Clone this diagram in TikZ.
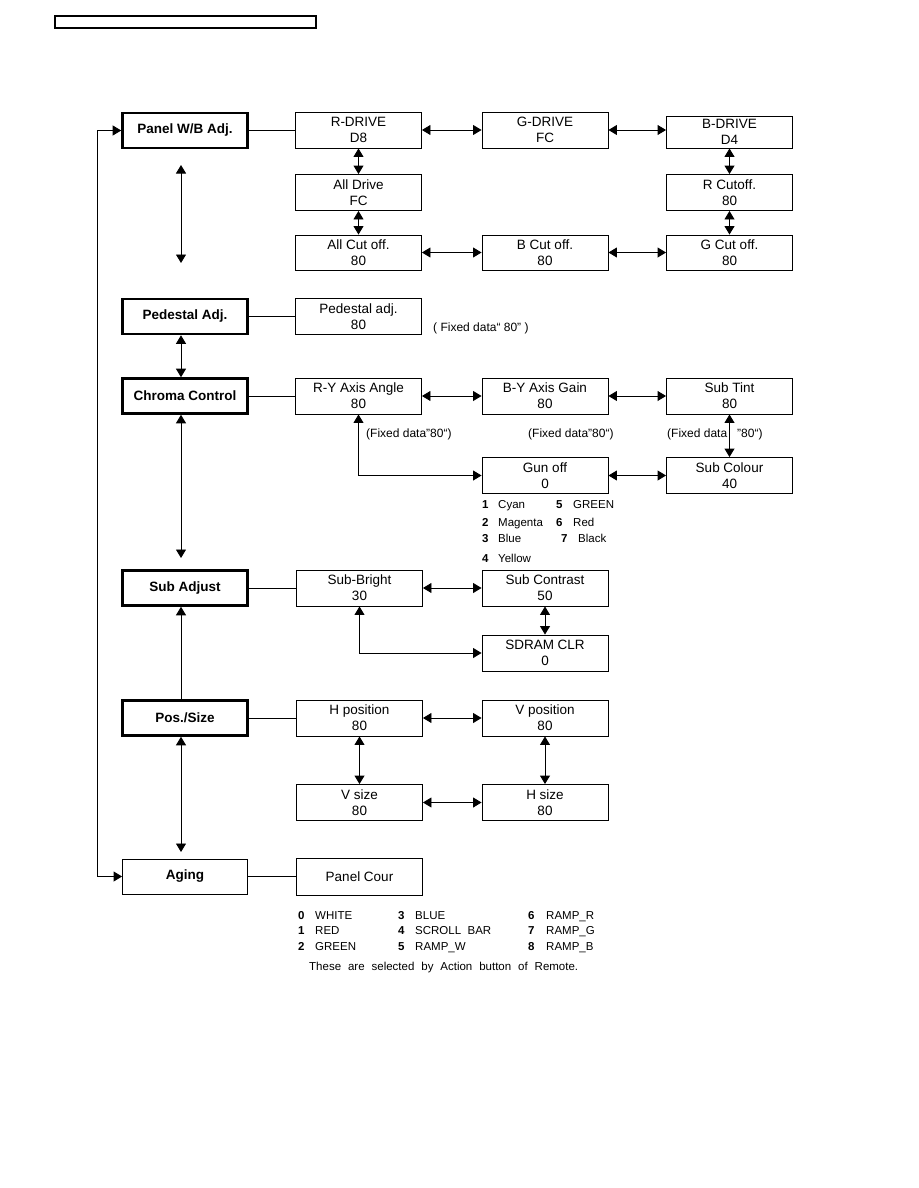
\documentclass[tikz,border=0pt]{standalone}
\usepackage{fontspec}
\setmainfont{Liberation Sans}
\usetikzlibrary{arrows.meta, positioning, calc}

\begin{document}
\begin{tikzpicture}[
		x=1pt, y=-1pt,
		font=\fontsize{13.5}{16}\selectfont,
		% Menu styles
		menubox/.style={draw=black, line width=2.6pt, minimum width=125pt, minimum height=35pt, inner sep=0pt, font=\fontsize{13.5}{16}\selectfont\bfseries},
		itembox/.style={draw=black, line width=0.9pt, minimum width=126pt, minimum height=36pt, inner sep=0pt, align=center},
		% Connector styles
		link/.style={line width=0.9pt},
		both/.style={link, {Triangle[length=8.5pt,width=10pt]}-{Triangle[length=8.5pt,width=10pt]}},
		single/.style={link, -{Triangle[length=8.5pt,width=10pt]}},
		% Note styles
		note/.style={font=\fontsize{11.5}{14}\selectfont, anchor=base west, inner sep=0pt},
		fixnote/.style={note, font=\fontsize{12}{14}\selectfont}
		]
		
		\useasboundingbox (0,0) rectangle (918,1188);
		
		% page header frame
		\draw[line width=1.5pt] (55,16) rectangle (316,28);
		
		% spine of the menu column
		\coordinate (spine) at (181,0);
		\coordinate (loop) at (97,0);
		
		% --- PANEL W/B ADJ. ---
		\node[menubox] (panelwb) at (185,130.5) {Panel W/B Adj.};
		\node[itembox] (rdrive) at (358.5,130) {R-DRIVE\\D8};
		\node[itembox] (gdrive) at (545,130) {G-DRIVE\\FC};
		\node[itembox, minimum height=32pt] (bdrive) at (729.5,132) {B-DRIVE\\D4};
		\node[itembox] (alldrive) at (358.5,192.5) {All Drive\\FC};
		\node[itembox] (rcutoff) at (729.5,192.5) {R Cutoff.\\80};
		\node[itembox, minimum height=35pt] (allcut) at (358.5,252.5) {All Cut off.\\80};
		\node[itembox, minimum height=35pt] (bcut) at (545,252.5) {B Cut off.\\80};
		\node[itembox, minimum height=35pt] (gcut) at (729.5,252.5) {G Cut off.\\80};
		
		\draw[link] (panelwb.east) -- (panelwb.east -| rdrive.west);
		\draw[both] (rdrive) -- (gdrive);
		\draw[both] (gdrive.east) -- (gdrive.east -| bdrive.west);
		\draw[both] (rdrive) -- (alldrive);
		\draw[both] (alldrive) -- (allcut);
		\draw[both] (bdrive) -- (rcutoff);
		\draw[both] (rcutoff) -- (gcut);
		\draw[both] (allcut) -- (bcut);
		\draw[both] (bcut) -- (gcut);
		
		\coordinate (wbtop) at (181,165);
		\coordinate (wbbot) at (181,263);
		\draw[both] (wbtop) -- (wbbot);
		
		% --- PEDESTAL ADJ. ---
		\node[menubox] (pedestal) at (185,316.5) {Pedestal Adj.};
		\node[itembox] (pedadj) at (358.5,316.5) {Pedestal adj.\\80};
		\node[fixnote] (pedfix) at (433,331) {( Fixed data“ 80” )};
		\draw[link] (pedestal) -- (pedadj);
		
		% --- CHROMA CONTROL ---
		\node[menubox] (chroma) at (185,396) {Chroma Control};
		\node[itembox] (ryangle) at (358.5,396) {R-Y Axis Angle\\80};
		\node[itembox] (bygain) at (545,396) {B-Y Axis Gain\\80};
		\node[itembox] (subtint) at (729.5,396) {Sub Tint\\80};
		\node[itembox] (gunoff) at (545,475.5) {Gun off\\0};
		\node[itembox] (subcolour) at (729.5,475.5) {Sub Colour\\40};
		
		\node[fixnote] (ryfix) at (366,437) {(Fixed data”80“)};
		\node[fixnote] (byfix) at (528,437) {(Fixed data”80“)};
		\node[fixnote] (tintfix) at (667,437) {(Fixed data};
		\node[fixnote] (tintval) at (737,437) {”80“)};
		
		\draw[both] (pedestal.south -| spine) -- (spine |- chroma.north);
		\draw[link] (chroma) -- (ryangle);
		\draw[both] (ryangle) -- (bygain);
		\draw[both] (bygain) -- (subtint);
		\draw[both] (subtint) -- (subcolour);
		\draw[both] (gunoff) -- (subcolour);
		\draw[both] (ryangle.south) |- (gunoff.west);
		
		\coordinate (chrend) at (181,558);
		\draw[both] (chroma.south -| spine) -- (chrend);
		
		% Gun off colour list
		\foreach \num/\txt/\xn/\xt/\yy in {1/Cyan/482/498/508, 5/GREEN/556/573/508,
			2/Magenta/482/498/526, 6/Red/556/573/526,
			3/Blue/482/498/542, 7/Black/561/578/542, 4/Yellow/482/498/562}{
			\node[note, font=\fontsize{11.5}{14}\selectfont\bfseries] (gunnum\num) at (\xn,\yy) {\num};
			\node[note] (guntxt\num) at (\xt,\yy) {\txt};
		}
		
		% --- SUB ADJUST ---
		\node[menubox] (subadj) at (185,588) {Sub Adjust};
		\node[itembox] (subbright) at (359.5,588) {Sub-Bright\\30};
		\node[itembox] (subcontrast) at (545,588) {Sub Contrast\\50};
		\node[itembox] (sdram) at (545,653) {SDRAM CLR\\0};
		
		\draw[link] (subadj) -- (subbright);
		\draw[both] (subbright) -- (subcontrast);
		\draw[both] (subcontrast) -- (sdram);
		\draw[both] (subbright.south) |- (sdram.west);
		
		% --- POS./SIZE ---
		\node[menubox] (possize) at (185,718) {Pos./Size};
		\node[itembox] (hpos) at (359.5,718) {H position\\80};
		\node[itembox] (vpos) at (545,718) {V position\\80};
		\node[itembox] (vsize) at (359.5,802.5) {V size\\80};
		\node[itembox] (hsize) at (545,802.5) {H size\\80};
		
		\draw[single] (possize.north -| spine) -- (spine |- subadj.south);
		\draw[link] (possize) -- (hpos);
		\draw[both] (hpos) -- (vpos);
		\draw[both] (hpos) -- (vsize);
		\draw[both] (vpos) -- (hsize);
		\draw[both] (vsize) -- (hsize);
		
		\coordinate (posend) at (181,852);
		\draw[both] (possize.south -| spine) -- (posend);
		
		% --- AGING ---
		\node[menubox, line width=0.9pt] (aging) at (185,876.5) {Aging};
		\node[itembox, minimum height=37pt] (panelcour) at (359.5,876.5) {Panel Cour};
		\draw[link] (aging) -- (panelcour);
		
		% return loop from Aging to Panel W/B Adj.
		\draw[both] (panelwb.west) -- (panelwb.west -| loop) -- (aging.west -| loop) -- (aging.west);
		
		% Panel colour list
		\foreach \num/\txt/\xn/\xt/\yy in {0/WHITE/298/315/919, 1/RED/298/315/934, 2/GREEN/298/315/950,
			3/BLUE/398/415/919, 4/{SCROLL\ \ BAR}/398/415/934, 5/RAMP\_W/398/415/950,
			6/RAMP\_R/528/546/919, 7/RAMP\_G/528/546/934, 8/RAMP\_B/528/546/950}{
			\node[note, font=\fontsize{11.5}{14}\selectfont\bfseries] (colnum\num) at (\xn,\yy) {\num};
			\node[note] (coltxt\num) at (\xt,\yy) {\txt};
		}
		\node[note] (actionnote) at (309,970) {\makebox[269pt][s]{These are selected by Action button of Remote.}};
		
	\end{tikzpicture}
\end{document}
